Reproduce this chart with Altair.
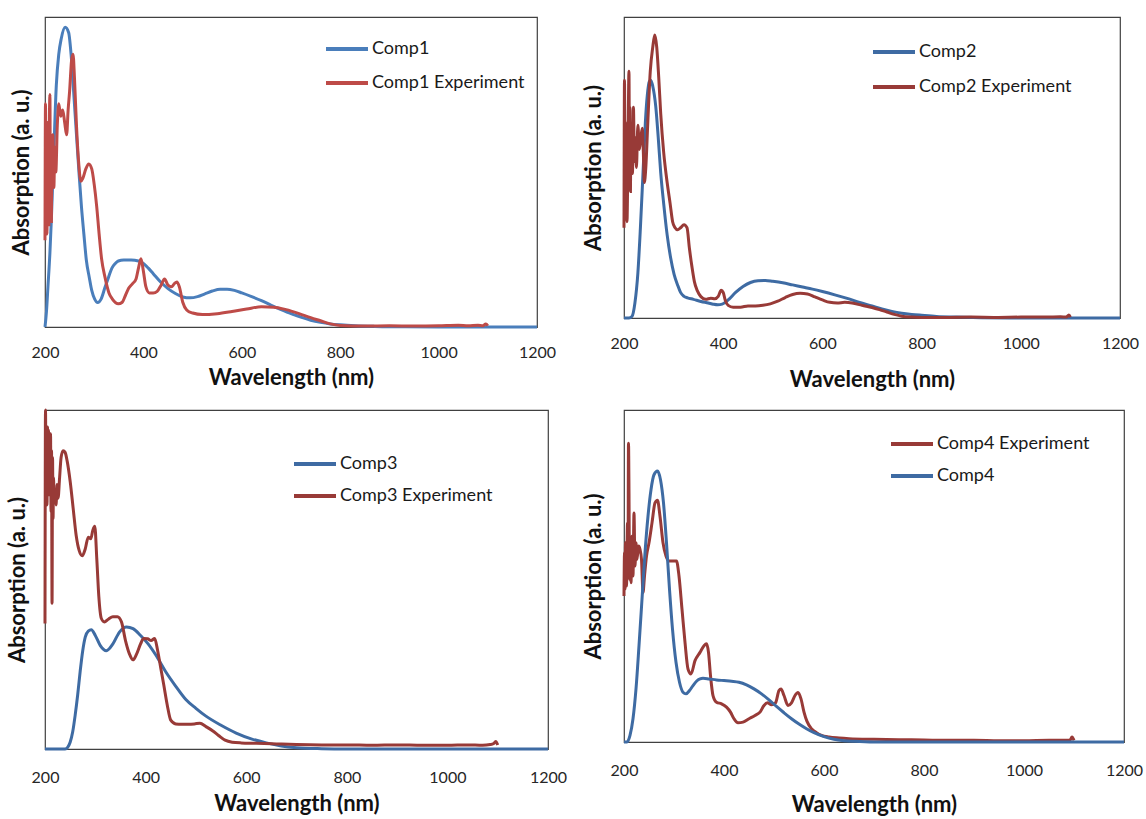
import altair as alt
import pandas as pd

FONT = "Lato"

# ---------------- Panel 1 ----------------
c1_wl = [200, 203, 206, 210, 213, 218, 223, 228, 233, 241, 248, 254, 259, 264, 269, 274, 279, 284,
         290, 295, 301, 307, 314, 322, 329, 336, 343, 349, 360, 375, 390, 400, 410, 420, 435, 450,
         465, 480, 495, 510, 525, 540, 556, 570, 585, 600, 620, 640, 660, 680, 700, 720, 740, 760,
         780, 800, 830, 870, 920, 1000, 1100, 1200]
c1_a = [0, 0.05, 0.13, 0.24, 0.35, 0.57, 0.78, 0.88, 0.93, 0.967, 0.95, 0.86, 0.74, 0.62, 0.5, 0.39,
        0.3, 0.216, 0.16, 0.118, 0.09, 0.079, 0.09, 0.128, 0.16, 0.19, 0.205, 0.213, 0.216, 0.216,
        0.213, 0.205, 0.19, 0.172, 0.145, 0.124, 0.108, 0.097, 0.094, 0.098, 0.107, 0.116, 0.122,
        0.122, 0.118, 0.11, 0.098, 0.085, 0.07, 0.056, 0.043, 0.032, 0.022, 0.015, 0.01, 0.007,
        0.004, 0.002, 0.001, 0, 0, 0]
e1_wl = [200, 201, 202, 203, 204, 205, 206, 207, 208, 209, 210, 211, 212, 213, 214, 216, 218, 220,
         222, 225, 228, 232, 236, 240, 244, 247, 250, 254, 257, 260, 264, 268, 273, 277, 283, 289,
         295, 300, 305, 310, 315, 322, 330, 337, 349, 357, 363, 370, 378, 385, 390, 395, 400, 405,
         412, 420, 428, 436, 443, 450, 457, 463, 468, 473, 480, 488, 500, 520, 550, 580, 610, 640,
         665, 690, 715, 740, 760, 780, 800, 850, 900, 950, 1000, 1040, 1060, 1080, 1090, 1096, 1100]
e1_a = [0.28, 0.72, 0.4, 0.62, 0.3, 0.66, 0.36, 0.58, 0.33, 0.68, 0.75, 0.4, 0.55, 0.34, 0.58, 0.62,
        0.45, 0.58, 0.5, 0.65, 0.72, 0.68, 0.7, 0.66, 0.62, 0.7, 0.76, 0.86, 0.88, 0.8, 0.65, 0.54,
        0.47, 0.48, 0.51, 0.526, 0.51, 0.46, 0.39, 0.3, 0.22, 0.16, 0.11, 0.09, 0.075, 0.08, 0.1,
        0.125, 0.14, 0.155, 0.19, 0.22, 0.18, 0.13, 0.11, 0.11, 0.115, 0.135, 0.155, 0.135, 0.13,
        0.14, 0.145, 0.13, 0.08, 0.055, 0.045, 0.04, 0.043, 0.05, 0.058, 0.065, 0.064, 0.056, 0.044,
        0.03, 0.02, 0.01, 0.005, 0.003, 0.004, 0.003, 0.004, 0.006, 0.004, 0.006, 0.004, 0.01, 0.004]

# ---------------- Panel 2 ----------------
c2_wl = [200, 210, 216, 222, 228, 233, 238, 243, 247, 251, 254, 258, 264, 269, 274, 280, 287, 294,
         301, 308, 314, 321, 328, 340, 355, 370, 380, 389, 398, 410, 425, 440, 455, 470, 485, 500,
         520, 540, 560, 580, 600, 625, 650, 675, 700, 720, 740, 760, 780, 800, 830, 870, 920, 1000,
         1200]
c2_a = [0, 0, 0.005, 0.05, 0.15, 0.297, 0.47, 0.648, 0.74, 0.785, 0.79, 0.77, 0.703, 0.6, 0.483,
        0.38, 0.276, 0.2, 0.145, 0.11, 0.085, 0.072, 0.067, 0.062, 0.055, 0.05, 0.046, 0.044, 0.046,
        0.06, 0.085, 0.105, 0.118, 0.124, 0.125, 0.122, 0.117, 0.11, 0.103, 0.096, 0.088, 0.077,
        0.065, 0.052, 0.04, 0.03, 0.022, 0.016, 0.012, 0.009, 0.005, 0.003, 0.001, 0, 0]
e2_wl = [200, 201, 202, 203, 204, 205, 206, 208, 210, 211, 212, 213, 214, 216, 217, 219, 221, 223,
         225, 228, 231, 234, 237, 239, 241, 244, 248, 253, 258, 262, 266, 270, 274, 280, 287, 293,
         298, 303, 308, 314, 321, 327, 332, 337, 342, 348, 355, 365, 375, 383, 390, 396, 400, 404,
         410, 420, 435, 450, 465, 480, 495, 510, 525, 540, 555, 570, 585, 600, 615, 630, 645, 660,
         680, 700, 715, 730, 745, 760, 780, 800, 850, 900, 950, 1000, 1050, 1080, 1092, 1097, 1100]
e2_a = [0.3, 0.79, 0.5, 0.65, 0.35, 0.6, 0.32, 0.55, 0.82, 0.55, 0.7, 0.42, 0.62, 0.64, 0.48, 0.7,
        0.52, 0.6, 0.5, 0.64, 0.56, 0.6, 0.63, 0.55, 0.45, 0.5, 0.65, 0.82, 0.9, 0.94, 0.9, 0.8,
        0.68, 0.55, 0.45, 0.38, 0.32, 0.3, 0.293, 0.3, 0.31, 0.3, 0.23, 0.17, 0.12, 0.09, 0.071,
        0.062, 0.066, 0.064, 0.072, 0.092, 0.085, 0.06, 0.042, 0.036, 0.036, 0.04, 0.04, 0.042,
        0.047, 0.056, 0.068, 0.078, 0.082, 0.08, 0.07, 0.06, 0.052, 0.05, 0.052, 0.05, 0.042, 0.035,
        0.028, 0.02, 0.012, 0.006, 0.003, 0.002, 0.002, 0.003, 0.002, 0.003, 0.003, 0.004, 0.003,
        0.01, 0.003]

# ---------------- Panel 3 ----------------
c3_wl = [200, 240, 245, 250, 255, 260, 265, 270, 275, 280, 286, 292, 300, 310, 322, 335, 348, 362,
         375, 390, 405, 420, 440, 460, 480, 500, 520, 550, 580, 610, 640, 670, 700, 750, 800, 1200]
c3_a = [0, 0, 0.005, 0.02, 0.05, 0.1, 0.16, 0.23, 0.29, 0.33, 0.348, 0.352, 0.335, 0.305, 0.29,
        0.31, 0.345, 0.36, 0.355, 0.335, 0.31, 0.278, 0.228, 0.185, 0.146, 0.12, 0.097, 0.07,
        0.047, 0.03, 0.018, 0.009, 0.004, 0.001, 0, 0]
e3_wl = [200, 201, 202, 203, 204, 205, 206, 207, 208, 209, 210, 211, 212, 213, 214, 215, 216, 217,
         218, 220, 222, 224, 226, 229, 232, 236, 240, 244, 250, 256, 262, 268, 274, 280, 286, 291,
         295, 299, 303, 307, 312, 318, 326, 335, 344, 352, 360, 368, 375, 382, 390, 396, 404, 411,
         418, 424, 430, 436, 443, 450, 460, 472, 485, 497, 508, 520, 533, 545, 558, 572, 590, 620,
         660, 700, 750, 800, 850, 900, 950, 1000, 1040, 1070, 1085, 1092, 1096, 1100]
e3_a = [0.37, 1.0, 0.8, 0.92, 0.72, 0.95, 0.78, 0.94, 0.75, 0.9, 0.8, 0.93, 0.7, 0.88, 0.43, 0.86,
        0.68, 0.8, 0.73, 0.76, 0.72, 0.78, 0.74, 0.8, 0.86, 0.88, 0.875, 0.85, 0.79, 0.71, 0.63,
        0.585, 0.57, 0.59, 0.625, 0.62, 0.645, 0.657, 0.56, 0.45, 0.385, 0.375, 0.383, 0.39, 0.39,
        0.375, 0.32, 0.28, 0.263, 0.28, 0.31, 0.326, 0.325, 0.32, 0.326, 0.29, 0.24, 0.19, 0.13,
        0.085, 0.074, 0.073, 0.073, 0.074, 0.076, 0.066, 0.054, 0.04, 0.026, 0.02, 0.018, 0.017,
        0.015, 0.013, 0.012, 0.012, 0.011, 0.012, 0.011, 0.011, 0.012, 0.011, 0.013, 0.016, 0.022,
        0.012]

# ---------------- Panel 4 ----------------
c4_wl = [200, 206, 212, 218, 224, 230, 236, 242, 248, 254, 260, 267, 273, 279, 285, 291, 297, 304,
         311, 318, 324, 331, 338, 345, 352, 358, 370, 385, 400, 415, 430, 445, 460, 475, 490, 505,
         520, 535, 550, 565, 580, 600, 620, 640, 660, 700, 1200]
c4_a = [0, 0, 0.02, 0.07, 0.16, 0.29, 0.43, 0.57, 0.68, 0.76, 0.805, 0.816, 0.79, 0.72, 0.6, 0.46,
        0.34, 0.24, 0.18, 0.15, 0.145, 0.155, 0.17, 0.183, 0.19, 0.192, 0.19, 0.187, 0.185, 0.183,
        0.18, 0.172, 0.16, 0.145, 0.127, 0.107, 0.088, 0.07, 0.054, 0.04, 0.028, 0.016, 0.008,
        0.004, 0.002, 0, 0]
e4_wl = [200, 201, 202, 203, 205, 207, 208, 209, 210, 211, 212, 214, 216, 218, 220, 222, 224, 226,
         229, 232, 235, 238, 241, 245, 250, 256, 262, 267, 272, 278, 284, 290, 298, 305, 310, 316,
         322, 328, 334, 342, 352, 360, 365, 369, 373, 378, 385, 395, 405, 413, 420, 428, 438, 450,
         462, 472, 480, 487, 495, 503, 510, 514, 520, 528, 535, 542, 548, 554, 560, 566, 575, 585,
         595, 610, 630, 650, 700, 750, 800, 850, 900, 950, 1000, 1050, 1080, 1092, 1096, 1100]
e4_a = [0.44, 0.57, 0.46, 0.6, 0.47, 0.66, 0.5, 0.9, 0.75, 0.49, 0.58, 0.48, 0.62, 0.5, 0.69, 0.53,
        0.6, 0.55, 0.59, 0.58, 0.55, 0.45, 0.5, 0.56, 0.6, 0.66, 0.72, 0.728, 0.68, 0.6, 0.56,
        0.545, 0.545, 0.545, 0.5, 0.4, 0.3, 0.22, 0.205, 0.245, 0.27, 0.29, 0.296, 0.27, 0.2, 0.14,
        0.12, 0.115, 0.105, 0.09, 0.07, 0.058, 0.06, 0.07, 0.08, 0.09, 0.11, 0.118, 0.112, 0.118,
        0.155, 0.16, 0.14, 0.11, 0.118, 0.14, 0.149, 0.13, 0.09, 0.062, 0.04, 0.028, 0.02, 0.015,
        0.012, 0.01, 0.008, 0.007, 0.006, 0.005, 0.005, 0.004, 0.004, 0.005, 0.005, 0.006, 0.015,
        0.005]

x_ticks = [200, 400, 600, 800, 1000, 1200]

BLUE1, RED1 = "#4A7EBB", "#BE4B48"
BLUE2, RED2 = "#3E6BA3", "#983A37"


def make_df(wl_a, a_a, name_a, wl_b, a_b, name_b):
    return pd.concat([
        pd.DataFrame({"wl": wl_a, "a": a_a, "series": name_a}),
        pd.DataFrame({"wl": wl_b, "a": a_b, "series": name_b}),
    ], ignore_index=True)


def panel(df, domain, colors, w, h, lx, ly, rowpad, lab_pad, xt_pad, yt_pad):
    return alt.Chart(df).mark_line(strokeWidth=3, interpolate="monotone").encode(
        x=alt.X("wl:Q", scale=alt.Scale(domain=[200, 1200], nice=False, zero=False),
                axis=alt.Axis(values=x_ticks, title="Wavelength (nm)", ticks=False, tickSize=0,
                              domain=False, grid=False, labelPadding=lab_pad,
                              titlePadding=xt_pad, labelFlush=False, labelOverlap=False,
                              format="d")),
        y=alt.Y("a:Q", scale=alt.Scale(domain=[0, 1], nice=False),
                axis=alt.Axis(labels=False, ticks=False, tickSize=0, domain=False, grid=False,
                              title="Absorption (a. u.)", titlePadding=yt_pad)),
        color=alt.Color("series:N", scale=alt.Scale(domain=domain, range=colors),
                        legend=alt.Legend(orient="none", legendX=lx, legendY=ly, title=None,
                                          symbolType="stroke", symbolSize=1764,
                                          symbolStrokeWidth=4, labelFont=FONT,
                                          labelFontSize=18, labelColor="#1a1a1a",
                                          labelOffset=2, rowPadding=rowpad, padding=0,
                                          labelLimit=300)),
    ).properties(width=w, height=h)


p1 = panel(make_df(c1_wl, c1_a, "Comp1", e1_wl, e1_a, "Comp1 Experiment"),
           ["Comp1", "Comp1 Experiment"], [BLUE1, RED1], 492, 310, 279, 9, 2, 17, 7, 12)
p2 = panel(make_df(c2_wl, c2_a, "Comp2", e2_wl, e2_a, "Comp2 Experiment"),
           ["Comp2", "Comp2 Experiment"], [BLUE2, RED2], 496, 301, 247, 12, 3, 17, 18, 19)
p3 = panel(make_df(c3_wl, c3_a, "Comp3", e3_wl, e3_a, "Comp3 Experiment"),
           ["Comp3", "Comp3 Experiment"], [BLUE2, RED2], 503, 339, 247, 31, -6, 20, 8, 16)
p4 = panel(make_df(e4_wl, e4_a, "Comp4 Experiment", c4_wl, c4_a, "Comp4"),
           ["Comp4 Experiment", "Comp4"], [RED2, BLUE2], 500, 332, 265, 11, -2, 20, 16, 19)

chart = alt.concat(
    p1, p2, p3, p4, columns=2, align="each", bounds="flush",
    spacing={"row": 83, "column": 76},
).resolve_scale(color="independent").resolve_legend(color="independent").properties(
    padding={"left": 5, "top": 16, "right": 1, "bottom": 0},
    background="white",
).configure_view(
    stroke="#404040", strokeWidth=1.2
).configure_axis(
    labelFont=FONT, labelFontSize=16, labelColor="#262626",
    titleFont=FONT, titleFontSize=22, titleFontWeight="bold", titleColor="#111111",
)

chart.save("out.html", embed_options={"renderer": "svg", "actions": False})
